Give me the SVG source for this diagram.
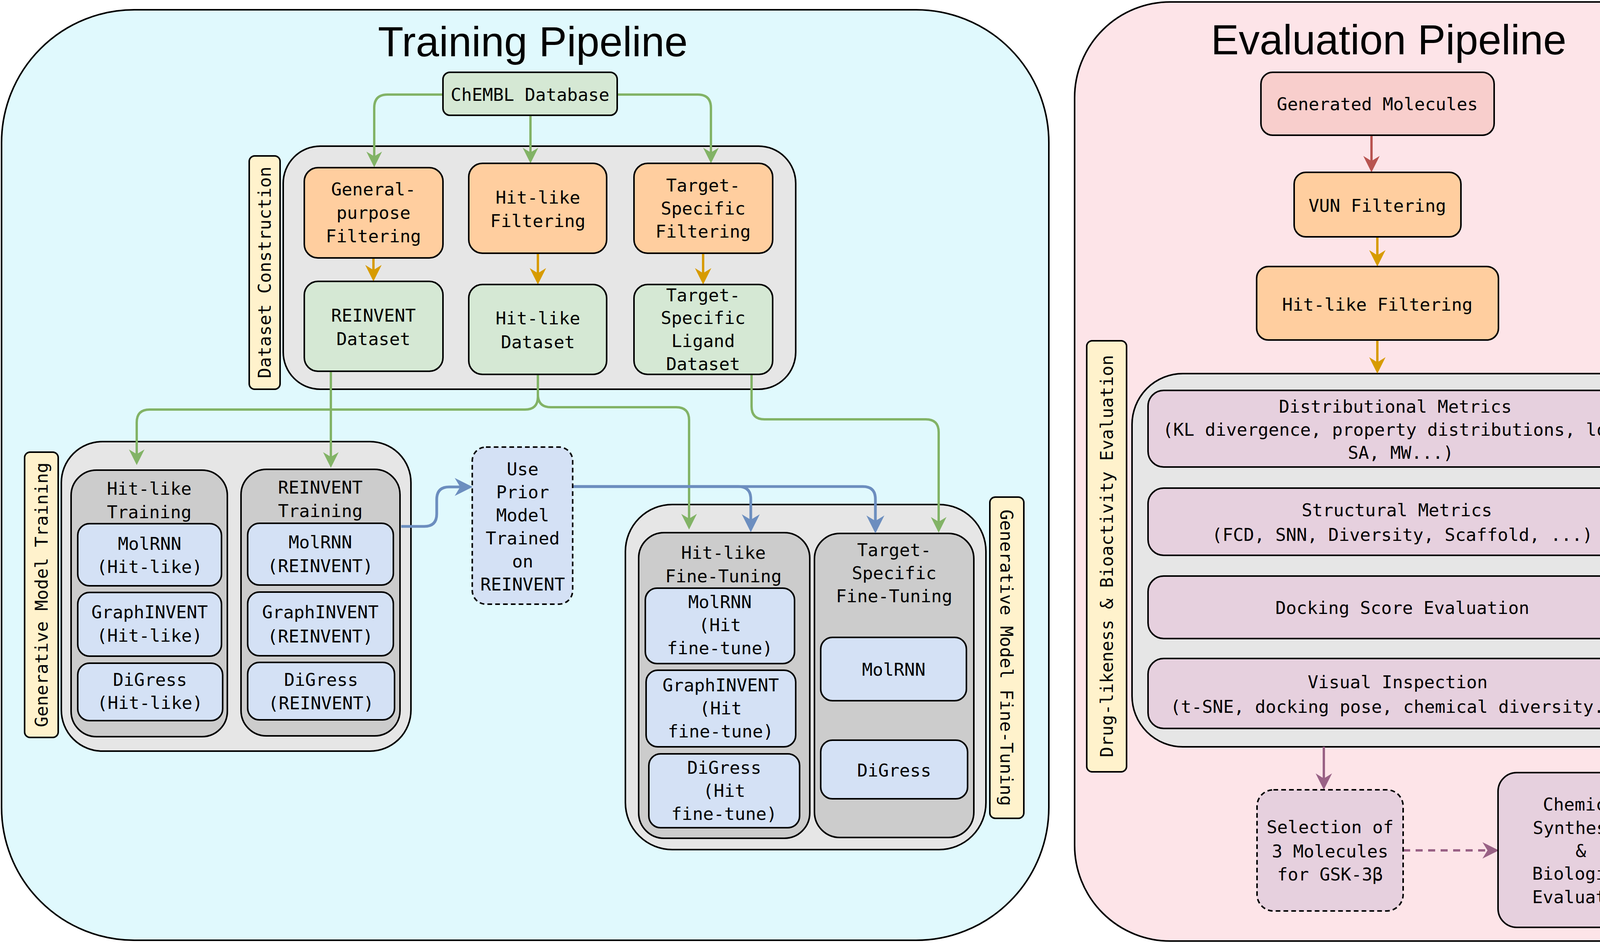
<svg xmlns="http://www.w3.org/2000/svg" width="4400" height="2413" viewBox="0 0 4400 2413">
<style>
.t{font-family:"DejaVu Sans Mono","Liberation Mono",monospace;font-size:45px;text-anchor:middle;fill:#000}
.title{font-family:"Liberation Sans",Arial,sans-serif;font-size:107px;text-anchor:middle;fill:#000}
.bx{stroke:#000;stroke-width:4}
.cont{stroke:#000;stroke-width:4}
.gray{fill:#e6e6e6}
.dgray{fill:#cccccc}
.blue{fill:#d4e1f5}
.orange{fill:#ffce9f}
.green{fill:#d5e8d4}
.yellow{fill:#fff2cc}
.red{fill:#f8cecc}
.purple{fill:#e6d0de}
.dash{stroke-dasharray:12 8}
.c{fill:none;stroke-linejoin:round}
.cg{stroke:#82b366;stroke-width:6}
.cb{stroke:#6c8ebf;stroke-width:7}
.co{stroke:#d79b00;stroke-width:6}
.cr{stroke:#b85450;stroke-width:6}
.cp{stroke:#996185;stroke-width:6}
</style>
<defs>
<marker id="ag" markerUnits="userSpaceOnUse" viewBox="0 0 40 40" markerWidth="40" markerHeight="40" refX="25" refY="20" orient="auto"><path d="M40,20 L0,0 L12,20 L0,40 Z" fill="#82b366"/></marker>
<marker id="ab" markerUnits="userSpaceOnUse" viewBox="0 0 46 46" markerWidth="46" markerHeight="46" refX="31" refY="23" orient="auto"><path d="M46,23 L0,0 L14,23 L0,46 Z" fill="#6c8ebf"/></marker>
<marker id="ao" markerUnits="userSpaceOnUse" viewBox="0 0 42 42" markerWidth="42" markerHeight="42" refX="27" refY="21" orient="auto"><path d="M42,21 L0,0 L13,21 L0,42 Z" fill="#d79b00"/></marker>
<marker id="ar" markerUnits="userSpaceOnUse" viewBox="0 0 42 42" markerWidth="42" markerHeight="42" refX="27" refY="21" orient="auto"><path d="M42,21 L0,0 L13,21 L0,42 Z" fill="#b85450"/></marker>
<marker id="ap" markerUnits="userSpaceOnUse" viewBox="0 0 42 42" markerWidth="42" markerHeight="42" refX="27" refY="21" orient="auto"><path d="M42,21 L0,0 L13,21 L0,42 Z" fill="#996185"/></marker>
</defs>

<!-- Containers -->
<g id="training-pipeline">
<rect class="cont" x="4" y="25" width="2681" height="2381" rx="340" fill="#e0f9fd"/>
<text class="title" x="1364" y="144">Training Pipeline</text>
</g>
<g id="evaluation-pipeline">
<rect class="cont" x="2751" y="5" width="1645" height="2403" rx="245" fill="#fde4e8"/>
<text class="title" x="3555" y="139">Evaluation Pipeline</text>
</g>

<g id="dataset-construction">
<rect class="bx gray" x="725" y="374" width="1312" height="622" rx="95"/>
</g>
<g id="dataset-construction-label">
<rect class="bx yellow" x="638" y="399" width="79" height="597" rx="14"/>
<text class="t" x="677" y="713" transform="rotate(-90 677 697)">Dataset Construction</text>
</g>

<g id="generative-model-training">
<rect class="bx gray" x="157" y="1130" width="895" height="792" rx="105"/>
</g>
<g id="generative-model-training-label">
<rect class="bx yellow" x="63" y="1157" width="86" height="730" rx="14"/>
<text class="t" x="106" y="1538" transform="rotate(-90 106 1522)">Generative Model Training</text>
</g>
<g id="hitlike-training">
<rect class="bx dgray" x="182" y="1203" width="400" height="682" rx="65"/>
<text class="t" x="382" y="1266">Hit-like</text>
<text class="t" x="382" y="1326">Training</text>
</g>
<g id="reinvent-training">
<rect class="bx dgray" x="617" y="1201" width="407" height="682" rx="65"/>
<text class="t" x="820" y="1263">REINVENT</text>
<text class="t" x="820" y="1323">Training</text>
</g>

<g id="generative-model-finetuning">
<rect class="bx gray" x="1601" y="1291" width="923" height="883" rx="120"/>
</g>
<g id="generative-model-finetuning-label">
<rect class="bx yellow" x="2534" y="1272" width="87" height="822" rx="14"/>
<text class="t" x="2577" y="1699" transform="rotate(90 2577 1683)">Generative Model Fine-Tuning</text>
</g>
<g id="hitlike-finetuning">
<rect class="bx dgray" x="1635" y="1363" width="438" height="782" rx="65"/>
<text class="t" x="1852" y="1430">Hit-like</text>
<text class="t" x="1852" y="1490">Fine-Tuning</text>
</g>
<g id="target-finetuning">
<rect class="bx dgray" x="2085" y="1365" width="408" height="778" rx="65"/>
<text class="t" x="2289" y="1423">Target-</text>
<text class="t" x="2289" y="1482">Specific</text>
<text class="t" x="2289" y="1541">Fine-Tuning</text>
</g>

<g id="metrics-group">
<rect class="bx gray" x="2898" y="956" width="1386" height="955" rx="130"/>
</g>
<g id="metrics-label">
<rect class="bx yellow" x="2782" y="872" width="102" height="1103" rx="14"/>
<text class="t" x="2833" y="1439" transform="rotate(-90 2833 1423)">Drug-likeness &amp; Bioactivity Evaluation</text>
</g>

<!-- Connectors -->
<g id="connectors">
<path class="c cg" d="M1134,242 H992 Q958,242 958,276 V413" marker-end="url(#ag)"/>
<path class="c cg" d="M1358,295 V403" marker-end="url(#ag)"/>
<path class="c cg" d="M1580,242 H1786 Q1820,242 1820,276 V403" marker-end="url(#ag)"/>
<path class="c co" d="M956,660 V705" marker-end="url(#ao)"/>
<path class="c co" d="M1377,648 V713" marker-end="url(#ao)"/>
<path class="c co" d="M1800,648 V713" marker-end="url(#ao)"/>
<path class="c cg" d="M847,950 V1182" marker-end="url(#ag)"/>
<path class="c cg" d="M1377,958 V1015 Q1377,1048 1344,1048 H383 Q350,1048 350,1081 V1175" marker-end="url(#ag)"/>
<path class="c cg" d="M1377,958 V1009 Q1377,1042 1410,1042 H1731 Q1764,1042 1764,1075 V1340" marker-end="url(#ag)"/>
<path class="c cg" d="M1924,958 V1040 Q1924,1073 1957,1073 H2370 Q2403,1073 2403,1106 V1348" marker-end="url(#ag)"/>
<path class="c cb" d="M1027,1347 H1086 Q1118,1347 1118,1315 V1278 Q1118,1246 1150,1246 H1195" marker-end="url(#ab)"/>
<path class="c cb" d="M1467,1245 H1890 Q1922,1245 1922,1277 V1347" marker-end="url(#ab)"/>
<path class="c cb" d="M1467,1245 H2209 Q2241,1245 2241,1277 V1350" marker-end="url(#ab)"/>
<path class="c cr" d="M3511,346 V426" marker-end="url(#ar)"/>
<path class="c co" d="M3526,606 V667" marker-end="url(#ao)"/>
<path class="c co" d="M3526,870 V941" marker-end="url(#ao)"/>
<path class="c cp" d="M3389,1911 V2006" marker-end="url(#ap)"/>
<path class="c cp" d="M3592,2176 H3822" stroke-width="7" stroke-dasharray="18 14" marker-end="url(#ap)"/>
</g>

<!-- Nodes -->
<g id="chembl">
<rect class="bx green" x="1134" y="185" width="446" height="110" rx="18"/>
<text class="t" x="1357" y="258">ChEMBL Database</text>
</g>
<g id="general-filtering">
<rect class="bx orange" x="779" y="429" width="355" height="231" rx="35"/>
<text class="t" x="956" y="500">General-</text>
<text class="t" x="956" y="560">purpose</text>
<text class="t" x="956" y="620">Filtering</text>
</g>
<g id="hitlike-filtering">
<rect class="bx orange" x="1200" y="418" width="353" height="230" rx="35"/>
<text class="t" x="1377" y="521">Hit-like</text>
<text class="t" x="1377" y="581">Filtering</text>
</g>
<g id="target-filtering">
<rect class="bx orange" x="1623" y="418" width="355" height="230" rx="35"/>
<text class="t" x="1800" y="490">Target-</text>
<text class="t" x="1800" y="549">Specific</text>
<text class="t" x="1800" y="608">Filtering</text>
</g>
<g id="reinvent-dataset">
<rect class="bx green" x="779" y="720" width="355" height="230" rx="35"/>
<text class="t" x="956" y="823">REINVENT</text>
<text class="t" x="956" y="883">Dataset</text>
</g>
<g id="hitlike-dataset">
<rect class="bx green" x="1200" y="728" width="353" height="230" rx="35"/>
<text class="t" x="1377" y="830">Hit-like</text>
<text class="t" x="1377" y="891">Dataset</text>
</g>
<g id="target-ligand-dataset">
<rect class="bx green" x="1623" y="728" width="355" height="230" rx="35"/>
<text class="t" x="1800" y="771">Target-</text>
<text class="t" x="1800" y="829">Specific</text>
<text class="t" x="1800" y="888">Ligand</text>
<text class="t" x="1800" y="947">Dataset</text>
</g>

<g id="molrnn-hitlike">
<rect class="bx blue" x="199" y="1340" width="368" height="159" rx="30"/>
<text class="t" x="383" y="1407">MolRNN</text>
<text class="t" x="383" y="1466">(Hit-like)</text>
</g>
<g id="graphinvent-hitlike">
<rect class="bx blue" x="199" y="1516" width="368" height="163" rx="30"/>
<text class="t" x="383" y="1582">GraphINVENT</text>
<text class="t" x="383" y="1642">(Hit-like)</text>
</g>
<g id="digress-hitlike">
<rect class="bx blue" x="199" y="1697" width="371" height="147" rx="30"/>
<text class="t" x="384" y="1755">DiGress</text>
<text class="t" x="384" y="1814">(Hit-like)</text>
</g>
<g id="molrnn-reinvent">
<rect class="bx blue" x="634" y="1339" width="373" height="158" rx="30"/>
<text class="t" x="820" y="1403">MolRNN</text>
<text class="t" x="820" y="1464">(REINVENT)</text>
</g>
<g id="graphinvent-reinvent">
<rect class="bx blue" x="634" y="1515" width="373" height="163" rx="30"/>
<text class="t" x="820" y="1582">GraphINVENT</text>
<text class="t" x="820" y="1644">(REINVENT)</text>
</g>
<g id="digress-reinvent">
<rect class="bx blue" x="634" y="1695" width="376" height="147" rx="30"/>
<text class="t" x="822" y="1755">DiGress</text>
<text class="t" x="822" y="1815">(REINVENT)</text>
</g>

<g id="use-prior">
<rect class="bx blue dash" x="1209" y="1144" width="257" height="402" rx="35"/>
<text class="t" x="1338" y="1216">Use</text>
<text class="t" x="1338" y="1275">Prior</text>
<text class="t" x="1338" y="1334">Model</text>
<text class="t" x="1338" y="1393">Trained</text>
<text class="t" x="1338" y="1452">on</text>
<text class="t" x="1338" y="1511">REINVENT</text>
</g>

<g id="molrnn-hitft">
<rect class="bx blue" x="1652" y="1505" width="382" height="193" rx="30"/>
<text class="t" x="1843" y="1556">MolRNN</text>
<text class="t" x="1843" y="1615">(Hit</text>
<text class="t" x="1843" y="1674">fine-tune)</text>
</g>
<g id="graphinvent-hitft">
<rect class="bx blue" x="1654" y="1715" width="383" height="196" rx="30"/>
<text class="t" x="1845" y="1769">GraphINVENT</text>
<text class="t" x="1845" y="1828">(Hit</text>
<text class="t" x="1845" y="1887">fine-tune)</text>
</g>
<g id="digress-hitft">
<rect class="bx blue" x="1661" y="1929" width="386" height="189" rx="30"/>
<text class="t" x="1854" y="1980">DiGress</text>
<text class="t" x="1854" y="2039">(Hit</text>
<text class="t" x="1854" y="2098">fine-tune)</text>
</g>
<g id="molrnn-target">
<rect class="bx blue" x="2101" y="1631" width="373" height="162" rx="30"/>
<text class="t" x="2288" y="1729">MolRNN</text>
</g>
<g id="digress-target">
<rect class="bx blue" x="2101" y="1894" width="376" height="150" rx="30"/>
<text class="t" x="2289" y="1987">DiGress</text>
</g>

<g id="generated-molecules">
<rect class="bx red" x="3228" y="185" width="597" height="161" rx="30"/>
<text class="t" x="3526" y="282">Generated Molecules</text>
</g>
<g id="vun-filtering">
<rect class="bx orange" x="3313" y="441" width="427" height="165" rx="30"/>
<text class="t" x="3526" y="542">VUN Filtering</text>
</g>
<g id="hitlike-filtering-eval">
<rect class="bx orange" x="3217" y="682" width="619" height="188" rx="30"/>
<text class="t" x="3526" y="795">Hit-like Filtering</text>
</g>
<g id="distributional-metrics">
<rect class="bx purple" x="2939" y="999" width="1290" height="196" rx="40"/>
<text class="t" x="3572" y="1056">Distributional Metrics</text>
<text class="t" x="3586" y="1115">(KL divergence, property distributions, logP,</text>
<text class="t" x="3586" y="1174">SA, MW...)</text>
</g>
<g id="structural-metrics">
<rect class="bx purple" x="2939" y="1249" width="1296" height="172" rx="40"/>
<text class="t" x="3576" y="1321">Structural Metrics</text>
<text class="t" x="3590" y="1384">(FCD, SNN, Diversity, Scaffold, ...)</text>
</g>
<g id="docking-score">
<rect class="bx purple" x="2939" y="1474" width="1299" height="160" rx="40"/>
<text class="t" x="3590" y="1571">Docking Score Evaluation</text>
</g>
<g id="visual-inspection">
<rect class="bx purple" x="2939" y="1685" width="1299" height="179" rx="40"/>
<text class="t" x="3578" y="1761">Visual Inspection</text>
<text class="t" x="3592" y="1824">(t-SNE, docking pose, chemical diversity...)</text>
</g>
<g id="selection">
<rect class="bx purple dash" x="3218" y="2021" width="374" height="310" rx="42"/>
<text class="t" x="3405" y="2132">Selection of</text>
<text class="t" x="3405" y="2194">3 Molecules</text>
<text class="t" x="3405" y="2253">for GSK-3β</text>
</g>
<g id="chemical-synthesis">
<rect class="bx purple" x="3835" y="1977" width="448" height="396" rx="48"/>
<text class="t" x="4058" y="2074">Chemical</text>
<text class="t" x="4046" y="2134">Synthesis</text>
<text class="t" x="4047" y="2193">&amp;</text>
<text class="t" x="4058" y="2251">Biological</text>
<text class="t" x="4058" y="2311">Evaluation</text>
</g>
</svg>
